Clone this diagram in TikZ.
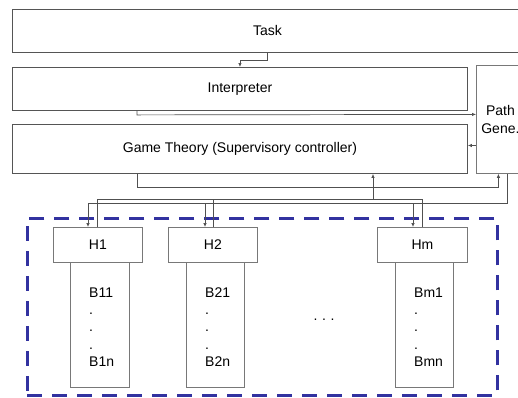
\documentclass[tikz,border=0pt]{standalone}
\usepackage{fontspec}
\setmainfont{Liberation Sans}
\usetikzlibrary{arrows.meta}
\definecolor{boxgray}{RGB}{85,85,85}
\definecolor{lightbox}{RGB}{120,120,120}
\definecolor{linegray}{RGB}{80,80,80}
\definecolor{grpblue}{RGB}{50,50,160}
\begin{document}
\begin{tikzpicture}[x=1pt,y=-1pt,
  box/.style={draw=boxgray, line width=0.9pt, rectangle, inner sep=0pt, anchor=north west},
  hbox/.style={draw=lightbox, line width=0.8pt, rectangle, inner sep=0pt, anchor=north west},
  conn/.style={draw=linegray, line width=0.7pt},
  arr/.style={conn, -{Latex[length=4pt,width=3.5pt]}},
  lbl/.style={inner sep=0pt},
  font=\fontsize{14}{17.25}\selectfont]
\fill[white] (0,0) rectangle (518,397);
\clip (0,0) rectangle (518,397);
\useasboundingbox (0,0) rectangle (518,397);

% group
\node[draw=grpblue, line width=2.5pt, dash pattern=on 15pt off 10pt, rectangle, anchor=north west,
      minimum width=470pt, minimum height=177pt, inner sep=0pt] (grp) at (26,217) {};

% top boxes
\node[box, minimum width=510pt, minimum height=43pt] (task) at (12,9) {};
\node[lbl] at (task.center) {Task};
\node[box, minimum width=455pt, minimum height=43pt] (interp) at (12,67) {};
\node[lbl] at (interp.center) {Interpreter};
\node[box, minimum width=455pt, minimum height=49pt] (game) at (12,124) {};
\node[lbl] at (game.center) {Game Theory (Supervisory controller)};
\node[hbox, minimum width=48pt, minimum height=108pt] (path) at (476,65) {};
\node[lbl, align=center] at (path.center) {Path\\Gene.};

% H boxes
\node[hbox, minimum width=89pt, minimum height=35pt] (h1) at (53,227) {};
\node[lbl] at (h1.center) {H1};
\node[hbox, minimum width=89pt, minimum height=35pt] (h2) at (168,227) {};
\node[lbl] at (h2.center) {H2};
\node[hbox, minimum width=90pt, minimum height=35pt] (hm) at (377,227) {};
\node[lbl] at (hm.center) {Hm};

% B columns
\node[hbox, minimum width=59pt, minimum height=125pt] (b1) at (70,262) {};
\node[hbox, minimum width=58pt, minimum height=125pt] (b2) at (186,262) {};
\node[hbox, minimum width=58pt, minimum height=125pt] (bm) at (395,262) {};
\node[lbl, align=left, anchor=west] (b1t) at (89,327) {B11\\.\\.\\.\\B1n};
\node[lbl, align=left, anchor=west] (b2t) at (205,327) {B21\\.\\.\\.\\B2n};
\node[lbl, align=left, anchor=west] (bmt) at (414,327) {Bm1\\.\\.\\.\\Bmn};
\node[lbl] (dots) at (324,320) {.\,\,.\,\,.};

% connectors
\draw[arr] (task.south) -- ++(0,7) -| (interp.north);
\draw[arr] ([xshift=125pt]interp.south west) -- ++(0,4) -- ([yshift=5pt]path.west);
\draw[arr] ([yshift=3.5pt]path.west |- game.east) -- ([yshift=3.5pt]game.east);
\draw[arr] ([xshift=125pt]game.south west) -- ++(0,13) -| ([xshift=-2pt]path.south);

\coordinate (cb1) at (88,203);
\coordinate (cb2) at (205,203);
\coordinate (cbm) at (413,203);
\draw[conn] ([xshift=7pt]path.south) |- (cb1);
\draw[arr] (cb1) -- (cb1 |- h1.north);
\draw[arr] (cb2) -- (cb2 |- h2.north);
\draw[arr] (cbm) -- (cbm |- hm.north);

\coordinate (fb1) at (97,199);
\coordinate (fb2) at (213,199);
\coordinate (fbm) at (422,199);
\coordinate (fbg) at (373,199);
\draw[conn] (fb1 |- h1.north) -- (fb1) -- (fbm) -- (fbm |- hm.north);
\draw[conn] (fb2 |- h2.north) -- (fb2);
\draw[arr] (fbg) -- (fbg |- game.south);
\end{tikzpicture}
\end{document}
